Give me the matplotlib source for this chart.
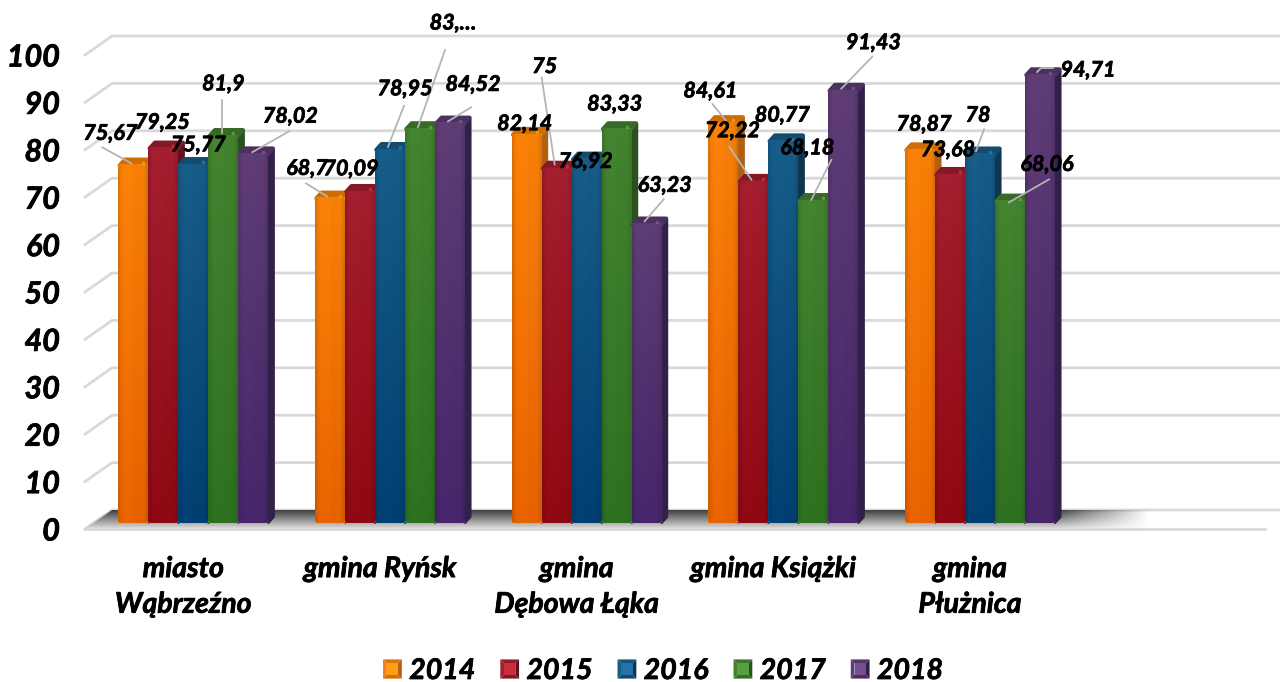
import numpy as np
import matplotlib
matplotlib.use("Agg")
import matplotlib.pyplot as plt
import matplotlib.patheffects as pe
from matplotlib.colors import to_rgb
from matplotlib.legend_handler import HandlerBase
from matplotlib.patches import Polygon, Rectangle, FancyBboxPatch
from matplotlib.transforms import ScaledTranslation

plt.rcParams['font.family'] = ['Lato', 'DejaVu Sans']

categories = ["miasto\nWąbrzeźno", "gmina Ryńsk", "gmina\nDębowa Łąka", "gmina Książki", "gmina\nPłużnica"]
years = ["2014", "2015", "2016", "2017", "2018"]
v2014 = [75.67, 68.7, 82.14, 84.61, 78.87]
v2015 = [79.25, 70.09, 75, 72.22, 73.68]
v2016 = [75.77, 78.95, 76.92, 80.77, 78]
v2017 = [81.9, 83.33, 83.33, 68.18, 68.06]
v2018 = [78.02, 84.52, 63.23, 91.43, 94.71]
series = [v2014, v2015, v2016, v2017, v2018]
label_texts = [
    ["75,67", "68,7", "82,14", "84,61", "78,87"],
    ["79,25", "70,09", "75", "72,22", "73,68"],
    ["75,77", "78,95", "76,92", "80,77", "78"],
    ["81,9", "83,…", "83,33", "68,18", "68,06"],
    ["78,02", "84,52", "63,23", "91,43", "94,71"],
]
yticks = list(range(0, 101, 10))

# styling: (top colour, bottom colour, side colour, cap colour)
styles = [
    ("#f78008", "#e66200", "#b06010", "#cf6c04"),
    ("#a31e2e", "#8e0812", "#5e1220", "#861826"),
    ("#175c88", "#003f70", "#0f3550", "#124c70"),
    ("#43822f", "#2d7020", "#2a4f20", "#376a28"),
    ("#5e3c74", "#46256a", "#30204a", "#4c3060"),
]
# label offsets from bar top in pixels (right, up)
label_off = [
    [(-23, 31), (-23, 29), (-2, 10), (-13, 31), (4, 25)],
    [(-1, 25), (-9, 22), (-12, 101), (-21, 50), (-2, 24)],
    [(5, 19), (15, 60), (-1, -3), (-1, 25), (-2, 38)],
    [(0, 51), (33, 105), (-2, 24), (-6, 52), (37, 36)],
    [(37, 37), (23, 38), (18, 38), (30, 47), (48, 4)],
]
# leader lines: (series, group): offsets from bar top in pixels
leaders = {
    (0, 0): [(-31, 17), (-2, 1)], (0, 1): [(-24, 14), (-3, 1)], (0, 3): [(-11, 18), (3, 1)],
    (1, 2): [(-15, 90), (-2, 3)], (1, 3): [(-24, 34), (-2, 1)],
    (2, 1): [(14, 43), (-2, 2)], (2, 4): [(4, 24), (-4, 2)],
    (3, 0): [(-1, 35), (-1, 2)], (3, 1): [(25, 78), (-2, 1)], (3, 3): [(18, 40), (-2, 0)], (3, 4): [(39, 21), (-1, -2)],
    (4, 0): [(36, 22), (-1, 1)], (4, 1): [(21, 15), (-2, 1)], (4, 2): [(17, 24), (-2, 2)], (4, 3): [(29, 33), (-2, 1)],
    (4, 4): [(13, 6), (1, 6), (-3, 2)],
}

W, H = 1280, 682
fig = plt.figure(figsize=(W / 100, H / 100), dpi=100)
L, R, B, T = 85, 1265, 529, 55
ax = fig.add_axes([L / W, (H - B) / H, (R - L) / W, (B - T) / H])
ax.patch.set_visible(False)
ax.set_xlim(-0.5, 5.5)
ax.set_ylim(0, 100)
for sp in ax.spines.values():
    sp.set_visible(False)
px_x = 6 / (R - L)       # data units per pixel
px_y = 100 / (B - T)

# back wall and floor
grid_c = "#d9d9d9"
depth_x, depth_y = 27 * px_x, 19 * px_y
x_left, x_right = -0.5, 5.5
for t in yticks:
    ax.plot([x_left, x_left + depth_x, x_right + 15 * px_x], [t, t + depth_y, t + depth_y],
            color=grid_c, lw=2, clip_on=False, zorder=1, solid_joinstyle='round')
ax.plot([x_left, x_right], [0, 0], color=grid_c, lw=2, clip_on=False, zorder=3)

grey = np.linspace(0.25, 0.88, 48)
xfrac = np.linspace(L, R, 400)
alpha = np.clip((1150 - xfrac) / 90, 0, 1)
floor = np.ones((48, 400, 4))
floor[..., :3] = grey[:, None, None]
floor[..., 3] = alpha
im = ax.imshow(floor, extent=(x_left, x_right, 0, depth_y), aspect='auto', origin='upper',
               interpolation='bilinear', zorder=2)
im.set_clip_path(Polygon([(x_left, 0), (x_left + depth_x, depth_y), (x_right, depth_y), (x_right, 0)],
                         transform=ax.transData))

# bars: plane is shifted from floor front edge
tr = ax.transData + ScaledTranslation(10 / 100, 6 / 100, fig.dpi_scale_trans)
bw = 30 * px_x
dx, dy = 6.5 * px_x, 6 * px_y
corner = 4 * px_x


def gradient(top, bottom):
    t, b = np.array(to_rgb(top)), np.array(to_rgb(bottom))
    f = np.linspace(0, 1, 64)[:, None, None]
    grad = t * (1 - f) + b * f
    edge = np.array([0.88, 0.97, 1.0, 1.02, 1.02, 1.02, 1.02, 1.02, 1.0, 1.0, 1.0, 1.0, 1.0, 0.99, 0.96, 0.88])
    return np.clip(grad * edge[None, :, None], 0, 1)


for s, vals in enumerate(series):
    top, bottom, side, cap = styles[s]
    xs = np.arange(5) + (s - 2) * bw
    z = 10 + 4 * s
    rects = ax.bar(xs, vals, bw, color=top, transform=tr, clip_on=False, zorder=z + 1, linewidth=0)
    img = gradient(top, bottom)
    spot = np.clip(np.array(to_rgb(top)) * 1.35 + 0.08, 0, 1)
    for x, v, rect in zip(xs, vals, rects):
        x0, x1 = x - bw / 2, x + bw / 2
        ax.add_patch(Polygon([(x1, 0), (x1 + dx - px_x, dy), (x1 + dx - px_x, v + dy - px_y), (x1, v)], closed=True,
                             facecolor=side, edgecolor=side, lw=1.5, joinstyle='round',
                             transform=tr, clip_on=False, zorder=z))
        ax.add_patch(Polygon([(x0 + px_x, v - px_y), (x0 + dx, v + dy - px_y), (x1 + dx - 2 * px_x, v + dy - px_y),
                              (x1, v - px_y)], closed=True,
                             facecolor=cap, edgecolor=cap, lw=2.6, joinstyle='round',
                             transform=tr, clip_on=False, zorder=z))
        round_box = FancyBboxPatch((x0, 0), bw, v, boxstyle=f"round,pad=0,rounding_size={corner}",
                                   mutation_aspect=px_y / px_x, transform=tr, facecolor='none', edgecolor='none')
        rect.set_clip_path(round_box)
        gi = ax.imshow(img, extent=(x0, x1, 0, v), aspect='auto', interpolation='bilinear', zorder=z + 2)
        gi.set_transform(tr)
        gi.set_clip_path(round_box)
        ax.plot([x1 - 5 * px_x], [v + 1.5 * px_y], marker='o', ms=2.6, mew=0, color=spot, alpha=0.55,
                transform=tr, clip_on=False, zorder=z + 3)
ax.set_xlim(-0.5, 5.5)
ax.set_ylim(0, 100)

thick = [pe.withStroke(linewidth=0.55, foreground='black')]

# data labels and leader lines
for s, vals in enumerate(series):
    xs = np.arange(5) + (s - 2) * bw
    for g, (x, v) in enumerate(zip(xs, vals)):
        if (s, g) in leaders:
            p = tr.transform((x, v))
            pts = leaders[(s, g)]
            ax.plot([p[0] + a for a, _ in pts], [p[1] + b for _, b in pts], transform=None,
                    color="#b5b5b5", lw=1.3, clip_on=False, zorder=50)
        ox, oy = label_off[s][g]
        ax.annotate(label_texts[s][g], xy=(x, v), xycoords=tr, xytext=(ox, oy), textcoords='offset pixels',
                    ha='center', va='center', fontsize=15.5, fontweight='bold', style='italic',
                    color='black', zorder=60, annotation_clip=False, path_effects=thick)

ax.set_yticks(yticks)
ax.set_yticklabels([str(t) for t in yticks], fontsize=22, fontweight='bold', style='italic')
ax.set_xticks(range(5))
ax.set_xticklabels(categories, fontsize=20.5, fontweight='bold', style='italic', linespacing=1.46)
ax.tick_params(axis='y', length=0, pad=18)
ax.tick_params(axis='x', length=0, pad=19.5)
for lab in ax.get_xticklabels() + ax.get_yticklabels():
    lab.set_path_effects(thick)


# bevelled legend keys
class BevelHandler(HandlerBase):
    def __init__(self, style):
        super().__init__()
        self.style = style

    def create_artists(self, legend, orig, xd, yd, w, h, fs, trans):
        c = np.array(to_rgb(self.style[0]))
        d = np.array(to_rgb(self.style[2]))
        x0, y0 = -xd, -yd
        x1, y1 = x0 + w, y0 + h
        m = w * 0.2
        xa, xb, ya, yb = x0 + m, x1 - m, y0 + m, y1 - m
        light = np.clip(c * 1.15 + 0.04, 0, 1)
        quads = [
            ([(x0, y1), (x1, y1), (xb, yb), (xa, yb)], c * 0.9),
            ([(x0, y0), (x0, y1), (xa, yb), (xa, ya)], c),
            ([(x1, y0), (x1, y1), (xb, yb), (xb, ya)], d),
            ([(x0, y0), (x1, y0), (xb, ya), (xa, ya)], (c + d) / 2),
            ([(xa, ya), (xb, ya), (xb, yb), (xa, yb)], light),
        ]
        return [Polygon(pts, closed=True, facecolor=col, edgecolor='none', transform=trans) for pts, col in quads]


handles = [Rectangle((0, 0), 1, 1, facecolor=st[0]) for st in styles]
hmap = {h: BevelHandler(st) for h, st in zip(handles, styles)}
leg = fig.legend(handles, years, handler_map=hmap, loc='center', bbox_to_anchor=(663 / W, 1 - 671 / H),
                 ncol=5, frameon=False, prop={'family': 'Lato', 'weight': 'bold', 'style': 'italic', 'size': 20.5},
                 handlelength=0.66, handleheight=0.66, handletextpad=0.26, columnspacing=0.88, borderpad=0)
for t in leg.get_texts():
    t.set_path_effects(thick)

fig.savefig("out.png", dpi=100)
